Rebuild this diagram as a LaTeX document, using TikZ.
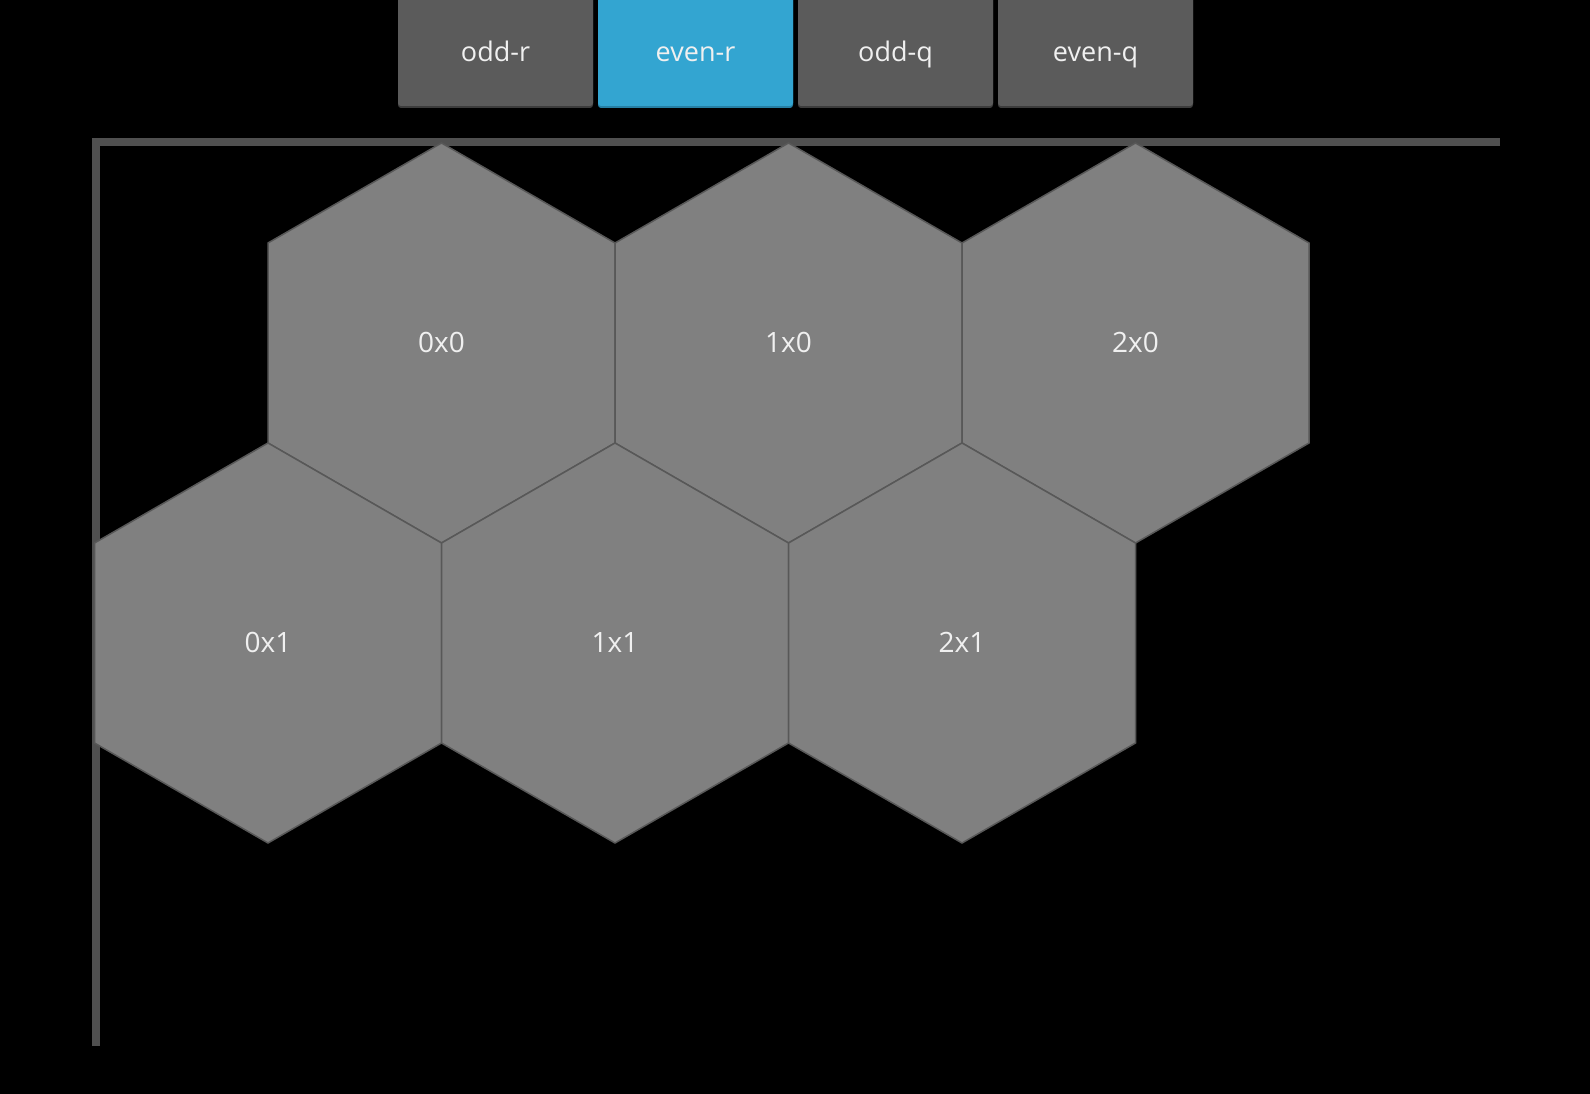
\documentclass[tikz,border=0pt]{standalone}
\usepackage{fontspec}
\setmainfont{Open Sans}
\definecolor{btngray}{RGB}{91,91,91}
\definecolor{btnshade}{RGB}{60,60,60}
\definecolor{btnblue}{RGB}{51,165,209}
\definecolor{btnblueshade}{RGB}{38,128,165}
\definecolor{axisgray}{RGB}{80,80,80}
\definecolor{hexfill}{RGB}{128,128,128}
\definecolor{hexedge}{RGB}{88,88,88}
\definecolor{labtext}{RGB}{240,240,240}
\tikzset{
  btnbox/.style={fill=btngray, rounded corners=3pt},
  btnsel/.style={fill=btnblue, rounded corners=3pt},
  btnlab/.style={text=labtext, font=\fontsize{27}{31}\selectfont, anchor=base, inner sep=0pt},
  axisline/.style={draw=axisgray, line width=8pt},
  hexcell/.style={fill=hexfill, draw=hexedge, line width=1.5pt, line join=miter},
  hexlab/.style={text=labtext, font=\fontsize{28}{32}\selectfont, anchor=base, inner sep=0pt},
}
\begin{document}
\begin{tikzpicture}[x=1pt,y=-1pt]
\useasboundingbox (0,0) rectangle (1590,1094);
\fill[black] (0,0) rectangle (1590,1094);
% buttons
\fill[btnshade, rounded corners=3pt] (398,-6) rectangle (593,108);
\fill[btnbox] (398,-6) rectangle (593,106);
\fill[btnblueshade, rounded corners=3pt] (598,-6) rectangle (793,108);
\fill[btnsel] (598,-6) rectangle (793,106);
\fill[btnshade, rounded corners=3pt] (798,-6) rectangle (993,108);
\fill[btnbox] (798,-6) rectangle (993,106);
\fill[btnshade, rounded corners=3pt] (998,-6) rectangle (1193,108);
\fill[btnbox] (998,-6) rectangle (1193,106);
\node[btnlab] (oddr) at (495.5,62) {odd-r};
\node[btnlab] (evenr) at (695.5,62) {even-r};
\node[btnlab] (oddq) at (895.5,62) {odd-q};
\node[btnlab] (evenq) at (1095.5,62) {even-q};
% axes
\coordinate (corner) at (96,142);
\coordinate (xend) at (1500,142);
\coordinate (yend) at (96,1046);
\draw[axisline] (xend) -- (corner) -- (yend);
% hexes
\foreach \cx/\cy/\lab/\nm in {441.5/343/0x0/h00, 788.5/343/1x0/h10, 1135.5/343/2x0/h20,
                              268/643/0x1/h01, 615/643/1x1/h11, 962/643/2x1/h21} {
  \draw[hexcell] (\cx,{\cy-200}) -- ({\cx+173.5},{\cy-100}) -- ({\cx+173.5},{\cy+100})
     -- (\cx,{\cy+200}) -- ({\cx-173.5},{\cy+100}) -- ({\cx-173.5},{\cy-100}) -- cycle;
}
\foreach \cx/\cy/\lab/\nm in {441.5/343/0x0/h00, 788.5/343/1x0/h10, 1135.5/343/2x0/h20,
                              268/643/0x1/h01, 615/643/1x1/h11, 962/643/2x1/h21} {
  \node[hexlab] (\nm) at (\cx,{\cy+9}) {\lab};
}
\end{tikzpicture}
\end{document}
